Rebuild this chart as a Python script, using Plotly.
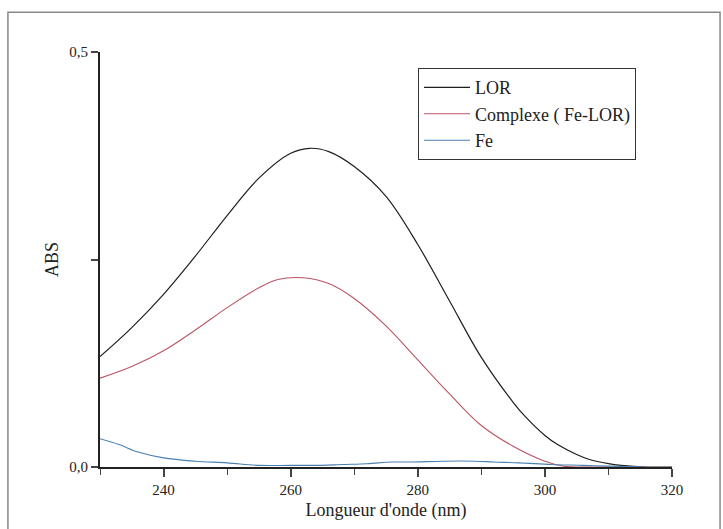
import plotly.graph_objects as go

# Wavelength (nm) and absorbance readings
lor_nm = [230, 235, 240, 245, 250, 255, 260, 263, 266, 270, 275, 280, 285, 290, 295, 297, 300, 302, 305, 307, 310, 312, 316, 320]
lor_abs = [0.133, 0.168, 0.208, 0.254, 0.303, 0.348, 0.378, 0.384, 0.380, 0.362, 0.326, 0.268, 0.200, 0.132, 0.078, 0.060, 0.038, 0.027, 0.015, 0.009, 0.004, 0.002, 0.0, 0.0]

cpx_nm = [230, 235, 240, 245, 250, 255, 258, 262, 266, 270, 275, 280, 285, 290, 295, 300, 303, 308, 316]
cpx_abs = [0.107, 0.121, 0.140, 0.165, 0.192, 0.216, 0.226, 0.228, 0.221, 0.203, 0.170, 0.129, 0.088, 0.050, 0.025, 0.007, 0.001, 0.0, 0.0]

fe_nm = [230, 233, 236, 240, 245, 250, 255, 260, 265, 268, 272, 276, 279, 284, 289, 292, 296, 301, 306, 310, 316]
fe_abs = [0.034, 0.027, 0.018, 0.011, 0.007, 0.005, 0.002, 0.002, 0.002, 0.003, 0.004, 0.006, 0.006, 0.007, 0.007, 0.006, 0.005, 0.003, 0.002, 0.001, 0.0]

x_ticks = [240, 260, 280, 300, 320]
y_tickvals = [0.0, 0.25, 0.5]
y_ticktext = ["0,0", "", "0,5"]

font = "Liberation Serif"

fig = go.Figure()
fig.add_trace(go.Scatter(x=lor_nm, y=lor_abs, mode="lines", name="LOR",
                         line=dict(color="#1e1e1e", width=1.2, shape="spline")))
fig.add_trace(go.Scatter(x=cpx_nm, y=cpx_abs, mode="lines", name="Complexe ( Fe-LOR)",
                         line=dict(color="#bb5565", width=1.1, shape="spline")))
fig.add_trace(go.Scatter(x=fe_nm, y=fe_abs, mode="lines", name="Fe",
                         line=dict(color="#4a80b0", width=1.1, shape="spline")))

fig.update_layout(
    width=723, height=529,
    margin=dict(l=100, r=51, t=52, b=62),
    paper_bgcolor="white", plot_bgcolor="white",
    font=dict(family=font, size=15, color="#222"),
    showlegend=True,
    legend=dict(x=0.556, y=0.961, xanchor="left", yanchor="top",
                bordercolor="#333", borderwidth=1, bgcolor="white",
                font=dict(family=font, size=18, color="#222"),
                tracegroupgap=0, itemwidth=46),
    xaxis=dict(range=[230, 320], tickvals=x_ticks, ticks="outside", ticklen=8,
               tickwidth=1.5, showline=True, linecolor="#222", linewidth=2,
               showgrid=False, zeroline=False,
               minor=dict(ticks="outside", ticklen=6, tickwidth=1.2, dtick=10, tick0=230, showgrid=False),
               tickfont=dict(family=font, size=15, color="#222"),
               title=dict(text="Longueur d'onde (nm)", standoff=6,
                          font=dict(family=font, size=18, color="#222"))),
    yaxis=dict(range=[0, 0.5], tickvals=y_tickvals, ticktext=y_ticktext, ticks="outside",
               ticklen=7, tickwidth=1.5, showline=True, linecolor="#222", linewidth=2,
               showgrid=False, zeroline=False,
               tickfont=dict(family=font, size=15, color="#222"),
               title=dict(text="ABS", standoff=6,
                          font=dict(family=font, size=18, color="#222"))),
)

# Outer frame of the figure
fig.add_shape(type="rect", xref="paper", yref="paper",
              x0=-0.161, x1=1.084, y0=-0.25, y1=1.096,
              line=dict(color="#888", width=1.5), layer="below")

fig.write_html("out.html")
